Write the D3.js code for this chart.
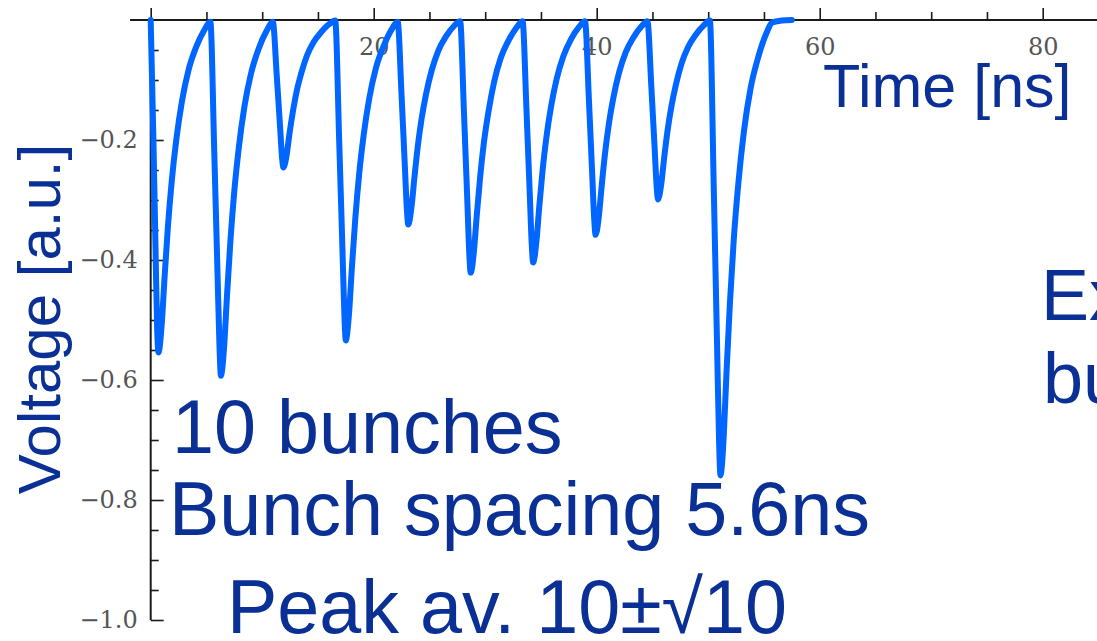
<!DOCTYPE html>
<html><head><meta charset="utf-8">
<script src="https://cdn.jsdelivr.net/npm/d3@7"></script>
<style>html,body{margin:0;padding:0;background:#fff;overflow:hidden}</style>
</head><body>
<svg id="c" width="1097" height="641"></svg>
<script>
// ---- data ----
const traceTime = [
  0, 0.25, 0.45, 0.58, 0.7, 0.82, 1.0, 1.25, 1.55, 1.9, 2.3, 2.8, 3.4, 4.1, 4.8, 5.35,
  5.7, 6.0, 6.18, 6.3, 6.42, 6.6, 6.85, 7.15, 7.5, 7.9, 8.4, 9.0, 9.7, 10.4, 10.95,
  11.3, 11.6, 11.78, 11.9, 12.02, 12.2, 12.45, 12.75, 13.1, 13.5, 14.0, 14.6, 15.3, 16.0, 16.55,
  16.9, 17.2, 17.38, 17.5, 17.62, 17.8, 18.05, 18.35, 18.7, 19.1, 19.6, 20.2, 20.9, 21.6, 22.15,
  22.5, 22.8, 22.98, 23.1, 23.22, 23.4, 23.65, 23.95, 24.3, 24.7, 25.2, 25.8, 26.5, 27.2, 27.75,
  28.1, 28.4, 28.58, 28.7, 28.82, 29.0, 29.25, 29.55, 29.9, 30.3, 30.8, 31.4, 32.1, 32.8, 33.35,
  33.7, 34.0, 34.18, 34.3, 34.42, 34.6, 34.85, 35.15, 35.5, 35.9, 36.4, 37.0, 37.7, 38.4, 38.95,
  39.3, 39.6, 39.78, 39.9, 40.02, 40.2, 40.45, 40.75, 41.1, 41.5, 42.0, 42.6, 43.3, 44.0, 44.55,
  44.9, 45.2, 45.38, 45.5, 45.62, 45.8, 46.05, 46.35, 46.7, 47.1, 47.6, 48.2, 48.9, 49.6, 50.15,
  50.5, 50.8, 50.98, 51.1, 51.22, 51.4, 51.65, 51.95, 52.3, 52.7, 53.2, 53.8, 54.5, 55.2, 55.75, 56.6, 57.5
];
const traceVoltage = [
  0, -0.205, -0.399, -0.515, -0.554, -0.543, -0.504, -0.427, -0.343, -0.266, -0.199, -0.136, -0.083, -0.044, -0.017, -0.003,
  -0.219, -0.427, -0.551, -0.593, -0.581, -0.540, -0.457, -0.368, -0.285, -0.213, -0.145, -0.089, -0.047, -0.018, -0.003,
  -0.091, -0.177, -0.229, -0.246, -0.241, -0.224, -0.189, -0.153, -0.118, -0.089, -0.060, -0.037, -0.020, -0.007, -0.001,
  -0.198, -0.384, -0.497, -0.534, -0.523, -0.486, -0.411, -0.331, -0.256, -0.192, -0.131, -0.080, -0.043, -0.016, -0.003,
  -0.126, -0.246, -0.317, -0.341, -0.334, -0.310, -0.263, -0.211, -0.164, -0.123, -0.084, -0.051, -0.027, -0.010, -0.002,
  -0.156, -0.303, -0.392, -0.421, -0.413, -0.383, -0.324, -0.261, -0.202, -0.152, -0.103, -0.063, -0.034, -0.013, -0.002,
  -0.149, -0.291, -0.376, -0.404, -0.396, -0.368, -0.311, -0.250, -0.194, -0.145, -0.099, -0.061, -0.032, -0.012, -0.002,
  -0.132, -0.258, -0.333, -0.358, -0.351, -0.326, -0.276, -0.222, -0.172, -0.129, -0.088, -0.054, -0.029, -0.011, -0.002,
  -0.111, -0.215, -0.278, -0.299, -0.293, -0.272, -0.230, -0.185, -0.144, -0.108, -0.073, -0.045, -0.024, -0.009, -0.001,
  -0.281, -0.546, -0.706, -0.759, -0.744, -0.691, -0.584, -0.471, -0.364, -0.273, -0.186, -0.114, -0.061, -0.023, -0.004, -0.001, 0
];
const xMajorTicks = [0, 20, 40, 60, 80];
const xTickLabels = ["", "20", "40", "60", "80"];
const xMinorTicks = [5, 10, 15, 25, 30, 35, 45, 50, 55, 65, 70, 75, 85];
const yMajorTicks = [-0.2, -0.4, -0.6, -0.8, -1.0];
const yTickLabels = ["\u22120.2", "\u22120.4", "\u22120.6", "\u22120.8", "\u22121.0"];
const yMinorTicks = [-0.05, -0.1, -0.15, -0.25, -0.3, -0.35, -0.45, -0.5, -0.55, -0.65, -0.7, -0.75, -0.85, -0.9, -0.95];
const xTitle = "Time [ns]";
const yTitle = "Voltage [a.u.]";
const noteLines = ["10 bunches", "Bunch spacing 5.6ns", "Peak av. 10\u00B1\u221A10"];
const sideLines = ["Ex", "bu"];

// ---- drawing ----
const svg = d3.select("#c");
const x = d3.scaleLinear().domain([0, 80]).range([150.7, 1042.7]);
const y = d3.scaleLinear().domain([0, -1]).range([20, 620]);
const axisColor = "#1a1a1a";
const labelFont = "'DejaVu Serif', serif";
const textBlue = "#0a3096";
const sans = "'Liberation Sans', Arial, sans-serif";

// x axis (ticks upward, labels below the line)
const gx = svg.append("g").attr("transform", `translate(0,${y(0)})`);
gx.append("line").attr("x1", x(-1.85)).attr("x2", 1097).attr("y1", 0).attr("y2", 0)
  .attr("stroke", axisColor).attr("stroke-width", 2);
const xMinorAxis = d3.axisTop(x).tickValues(xMinorTicks).tickSize(8).tickFormat("");
const xMajorAxis = d3.axisTop(x).tickValues(xMajorTicks).tickSize(12).tickPadding(-47)
  .tickFormat((d, i) => xTickLabels[i]);
gx.append("g").call(xMinorAxis).call(g => g.select(".domain").remove());
gx.append("g").call(xMajorAxis).call(g => g.select(".domain").remove());
gx.selectAll(".tick line").attr("stroke", axisColor).attr("stroke-width", 1.6);
gx.selectAll(".tick text").attr("font-family", labelFont).attr("font-size", 24)
  .attr("fill", "#555").attr("dy", "0em");

// y axis (ticks to the right, labels left)
const gy = svg.append("g").attr("transform", `translate(${x(0)},0)`);
gy.append("line").attr("x1", 0).attr("x2", 0).attr("y1", y(0)).attr("y2", y(-1))
  .attr("stroke", axisColor).attr("stroke-width", 2);
const yMinorAxis = d3.axisLeft(y).tickValues(yMinorTicks).tickSizeInner(-8).tickSizeOuter(0).tickFormat("");
const yMajorAxis = d3.axisLeft(y).tickValues(yMajorTicks).tickSizeInner(-13).tickSizeOuter(0)
  .tickPadding(13).tickFormat((d, i) => yTickLabels[i]);
gy.append("g").call(yMinorAxis).call(g => g.select(".domain").remove());
gy.append("g").call(yMajorAxis).call(g => g.select(".domain").remove());
gy.selectAll(".tick line").attr("stroke", axisColor).attr("stroke-width", 1.6);
gy.selectAll(".tick text").attr("font-family", labelFont).attr("font-size", 24)
  .attr("fill", "#555");

// signal trace
const pts = traceTime.map((t, i) => [t, traceVoltage[i]]);
const line = d3.line().x(d => x(d[0])).y(d => y(d[1])).curve(d3.curveMonotoneX);
svg.append("path").attr("d", line(pts)).attr("fill", "none")
  .attr("stroke", "#0066ff").attr("stroke-width", 6)
  .attr("stroke-linejoin", "round").attr("stroke-linecap", "round");

// axis titles
svg.append("text").attr("x", 823).attr("y", 107).text(xTitle)
  .attr("font-family", sans).attr("font-size", 61).attr("fill", textBlue);
svg.append("text").attr("transform", "translate(60,319) rotate(-90)")
  .attr("text-anchor", "middle").text(yTitle)
  .attr("font-family", sans).attr("font-size", 60).attr("fill", textBlue);

// annotations
const noteX = [172, 169, 227];
const noteY = [453, 535, 633];
svg.selectAll("text.note").data(noteLines).join("text").attr("class", "note")
  .attr("x", (d, i) => noteX[i]).attr("y", (d, i) => noteY[i]).text(d => d)
  .attr("font-family", sans).attr("font-size", 75.5).attr("fill", textBlue);
const sideX = [1041, 1043];
const sideY = [320, 403];
svg.selectAll("text.side").data(sideLines).join("text").attr("class", "side")
  .attr("x", (d, i) => sideX[i]).attr("y", (d, i) => sideY[i]).text(d => d)
  .attr("font-family", sans).attr("font-size", 72).attr("fill", textBlue);
</script>
</body></html>
